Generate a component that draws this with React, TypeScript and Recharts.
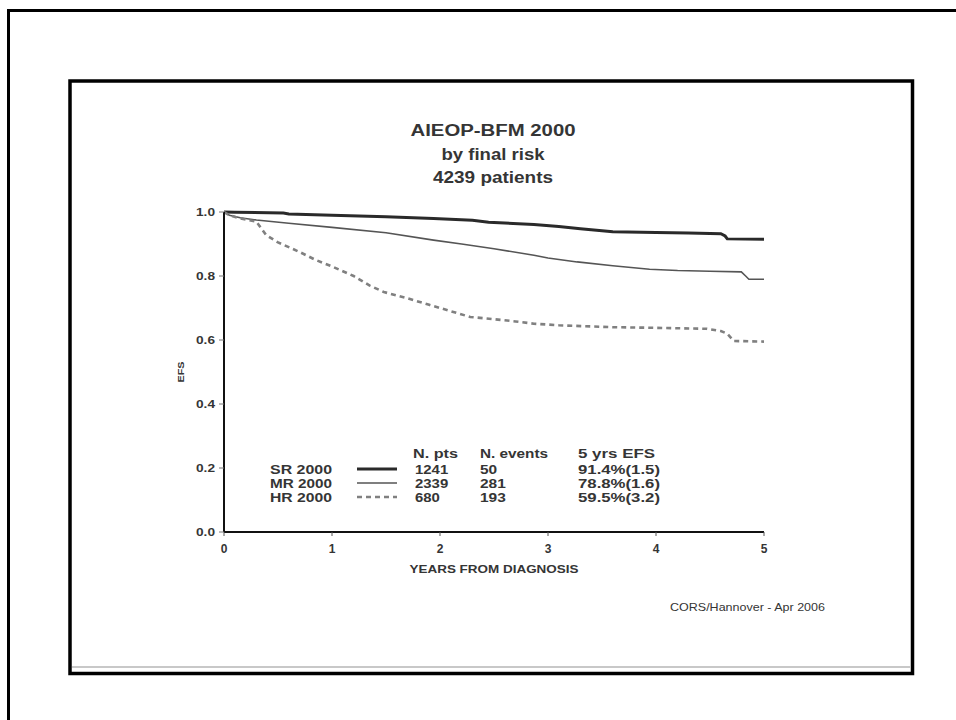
import React from "react";
import { LineChart, Line, XAxis, YAxis } from "recharts";

// ---- data ----
const titleLines = ["AIEOP-BFM 2000", "by final risk", "4239 patients"];
const yearTicks = [0, 1, 2, 3, 4, 5];
const efsTicks = [0, 0.2, 0.4, 0.6, 0.8, 1.0];
const efsTickLabels = ["0.0", "0.2", "0.4", "0.6", "0.8", "1.0"];

const srTimes = [0, 0.1, 0.55, 0.6, 1.0, 1.5, 1.94, 2.3, 2.45, 2.87, 3.1, 3.3, 3.55, 3.6, 4.0, 4.3, 4.6, 4.64, 4.66, 5.0];
const srEfs = [1.0, 0.999, 0.997, 0.994, 0.99, 0.985, 0.98, 0.974, 0.968, 0.961, 0.955, 0.948, 0.94, 0.938, 0.936, 0.934, 0.932, 0.925, 0.916, 0.915];

const mrTimes = [0, 0.05, 0.15, 0.3, 0.6, 1.0, 1.5, 1.94, 2.2, 2.5, 2.87, 3.0, 3.27, 3.6, 3.94, 4.2, 4.5, 4.79, 4.83, 4.86, 5.0];
const mrEfs = [1.0, 0.99, 0.982, 0.975, 0.965, 0.952, 0.935, 0.912, 0.9, 0.885, 0.865, 0.856, 0.844, 0.832, 0.821, 0.817, 0.815, 0.813, 0.8, 0.79, 0.79];

const hrTimes = [0, 0.05, 0.15, 0.3, 0.39, 0.5, 0.7, 0.85, 1.0, 1.2, 1.35, 1.48, 1.7, 1.9, 2.1, 2.28, 2.5, 2.7, 2.87, 3.1, 3.6, 4.0, 4.47, 4.6, 4.66, 4.72, 5.0];
const hrEfs = [1.0, 0.99, 0.98, 0.97, 0.928, 0.905, 0.875, 0.85, 0.83, 0.8, 0.77, 0.75, 0.73, 0.71, 0.69, 0.672, 0.665, 0.658, 0.651, 0.646, 0.64, 0.638, 0.635, 0.628, 0.62, 0.597, 0.595];

const groups = ["SR 2000", "MR 2000", "HR 2000"];
const nPts = ["1241", "2339", "680"];
const nEvents = ["50", "281", "193"];
const efs5 = ["91.4%(1.5)", "78.8%(1.6)", "59.5%(3.2)"];
const tableHeaders = ["N. pts", "N. events", "5 yrs EFS"];
const xLabel = "YEARS FROM DIAGNOSIS";
const yLabel = "EFS";
const footer = "CORS/Hannover - Apr 2006";

const srData = srTimes.map((t, i) => ({ t, v: srEfs[i] }));
const mrData = mrTimes.map((t, i) => ({ t, v: mrEfs[i] }));
const hrData = hrTimes.map((t, i) => ({ t, v: hrEfs[i] }));

// ---- styles ----
const FONT = "'Liberation Sans', Arial, Helvetica, sans-serif";
const TXT = "#353535";
const series = [
  { stroke: "#2a2a2a", width: 3, dash: undefined as string | undefined },
  { stroke: "#555555", width: 1.6, dash: undefined as string | undefined },
  { stroke: "#808080", width: 2.6, dash: "5 4" },
];

const T = (p: { x: number; y: number; text: string; len?: number; size: number; anchor?: string; weight?: string | number; fill?: string }) => (
  <text
    x={p.x}
    y={p.y}
    fontFamily={FONT}
    fontSize={p.size}
    fontWeight={p.weight ?? "bold"}
    fill={p.fill ?? TXT}
    textAnchor={(p.anchor as any) ?? "start"}
    {...(p.len ? { textLength: p.len, lengthAdjust: "spacingAndGlyphs" } : {})}
  >
    {p.text}
  </text>
);

const YTick = (props: any) => {
  const idx = efsTicks.indexOf(props.payload.value);
  return (
    <text x={215} y={props.y + 4} fontFamily={FONT} fontSize={11} fontWeight="bold" fill={TXT} textAnchor="end" textLength={19} lengthAdjust="spacingAndGlyphs">
      {efsTickLabels[idx] ?? String(props.payload.value)}
    </text>
  );
};

const XTick = (props: any) => (
  <text x={props.x} y={553} fontFamily={FONT} fontSize={12} fontWeight="bold" fill={TXT} textAnchor="middle">
    {String(props.payload.value)}
  </text>
);

export default function App() {
  const rowY = [474, 488, 502];
  return (
    <div style={{ position: "absolute", left: 0, top: 0, width: 956, height: 720, background: "#fff", overflow: "hidden" }}>
      <svg width={956} height={720} style={{ position: "absolute", left: 0, top: 0 }}>
        {/* outer frame */}
        <rect x={8.5} y={10.5} width={1000} height={1000} fill="none" stroke="#000" strokeWidth={3} />
        {/* inner frame */}
        <rect x={70} y={81} width={842.5} height={592.5} fill="#fff" stroke="#000" strokeWidth={3.5} />
        <line x1={72} y1={667} x2={910} y2={667} stroke="#c8c8c8" strokeWidth={2} />
        {/* title */}
        {titleLines.map((s, i) => (
          <T key={s} x={493} y={136 + i * 23.5} text={s} size={16} anchor="middle" len={[165, 103, 120][i]} />
        ))}
        {/* axis labels */}
        <T x={494} y={573} text={xLabel} size={10.5} anchor="middle" len={169} />
        <g transform="translate(184,372) rotate(-90)">
          <T x={0} y={0} text={yLabel} size={9} anchor="middle" len={21} />
        </g>
        {/* legend table */}
        {tableHeaders.map((h, i) => (
          <T key={h} x={[413, 480, 578][i]} y={458} text={h} size={12} len={[45, 68, 77][i]} />
        ))}
        {groups.map((g, i) => (
          <g key={g}>
            <T x={332} y={rowY[i]} text={g} size={12} anchor="end" len={62} />
            <line x1={357} x2={397} y1={rowY[i] - 5} y2={rowY[i] - 5} stroke={series[i].stroke} strokeWidth={series[i].width} strokeDasharray={series[i].dash} />
            <T x={415} y={rowY[i]} text={nPts[i]} size={12} len={nPts[i].length * 8.3} />
            <T x={480} y={rowY[i]} text={nEvents[i]} size={12} len={nEvents[i].length * 8.6} />
            <T x={578} y={rowY[i]} text={efs5[i]} size={12} len={82} />
          </g>
        ))}
        {/* footer */}
        <T x={670} y={611} text={footer} size={11} weight="normal" len={155} />
      </svg>
      <div style={{ position: "absolute", left: 0, top: 0 }}>
        <LineChart width={956} height={720} margin={{ top: 212, right: 192, bottom: 158, left: 184 }}>
          <XAxis
            dataKey="t"
            type="number"
            domain={[0, 5]}
            ticks={yearTicks}
            allowDataOverflow
            height={30}
            tickSize={4}
            axisLine={{ stroke: "#111", strokeWidth: 2 }}
            tickLine={{ stroke: "#555" }}
            tick={XTick}
          />
          <YAxis
            type="number"
            domain={[0, 1]}
            ticks={efsTicks}
            width={40}
            tickSize={5}
            axisLine={{ stroke: "#111", strokeWidth: 2 }}
            tickLine={{ stroke: "#777" }}
            tick={YTick}
          />
          <Line data={srData} dataKey="v" type="linear" dot={false} stroke={series[0].stroke} strokeWidth={series[0].width} isAnimationActive={false} />
          <Line data={mrData} dataKey="v" type="linear" dot={false} stroke={series[1].stroke} strokeWidth={series[1].width} isAnimationActive={false} />
          <Line data={hrData} dataKey="v" type="linear" dot={false} stroke={series[2].stroke} strokeWidth={series[2].width} strokeDasharray={series[2].dash} isAnimationActive={false} />
        </LineChart>
      </div>
    </div>
  );
}
